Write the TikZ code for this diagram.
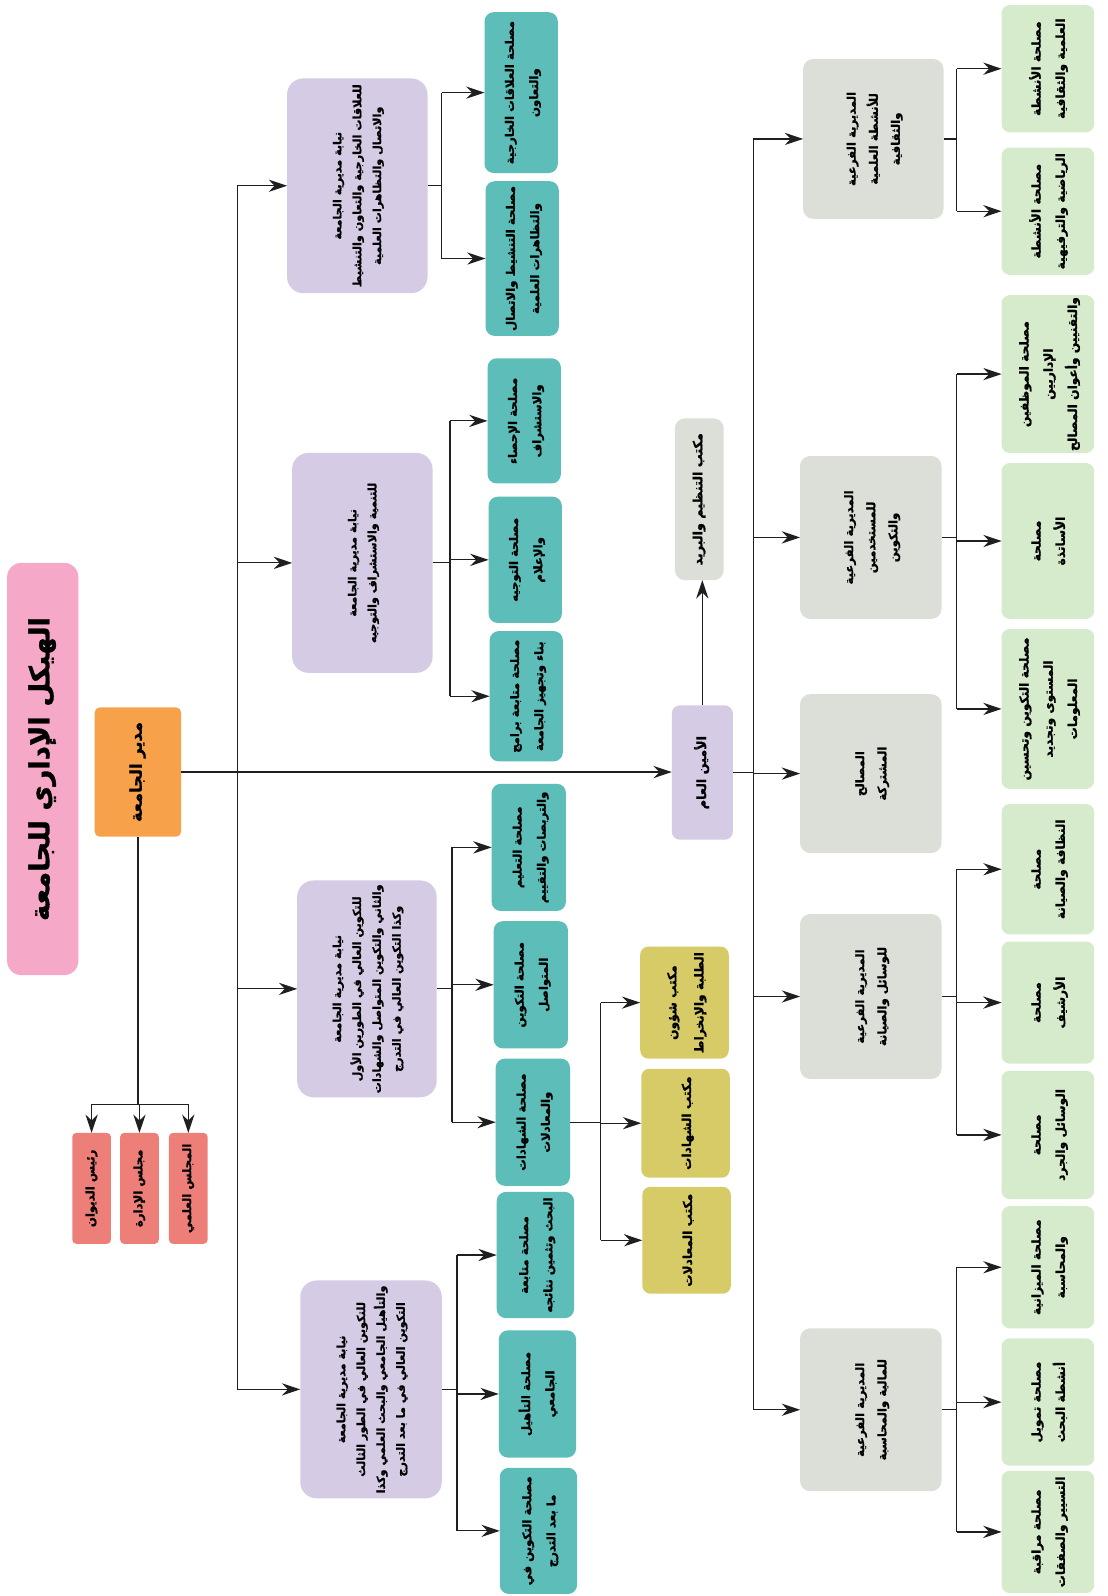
\documentclass[tikz,border=0pt]{standalone}
\usepackage{fontspec}
\usepackage{graphicx}
\usetikzlibrary{arrows.meta}
\newfontfamily\arfont[Script=Arabic, BoldFeatures={FakeBold=1.2}]{DejaVu Sans}
\TeXXeTstate=1
\newcommand\ar[1]{\beginR#1\endR}

\definecolor{titlepink}{HTML}{F6A8C8}
\definecolor{dirorange}{HTML}{F7A24A}
\definecolor{councilred}{HTML}{EE7E78}
\definecolor{vicepurple}{HTML}{D6CBE5}
\definecolor{svcteal}{HTML}{5DBDB9}
\definecolor{officeyellow}{HTML}{D6CB66}
\definecolor{subgray}{HTML}{DBDFD8}
\definecolor{svcgreen}{HTML}{D5EBCB}

% box from (x1,y1) to (x2,y2), text turned a quarter turn
\newcommand\orgbox[7]{%
  \node[#2, minimum width={(#5-#3)*1pt}, minimum height={(#6-#4)*1pt}]
    (#1) at ({(#3+#5)/2},{(#4+#6)/2})
    {\rotatebox{90}{\begin{tabular}{@{}c@{}}#7\end{tabular}}};}

% parent -> vertical bus at x=#2 -> children
\newcommand\fan[5]{%
  \draw[link] (#1.east) -- (#2,0 |- #1.east);
  \draw[link] (#2,0 |- #3) -- (#2,0 |- #4);
  \foreach \c in {#5} {\draw[arr] (#2,0 |- \c) -- (\c.west);}}

% font size, baseline skip and row stretch for box texts
\newcommand\boxfont[3]{\arfont\bfseries\fontsize{#1}{#2}\selectfont\def\arraystretch{#3}}

\begin{document}
\begin{tikzpicture}[x=1pt,y=-1pt,
  base/.style={inner sep=0pt, outer sep=0pt, text=black},
  titlebox/.style={base, fill=titlepink, rounded corners=14pt, font={\boxfont{27}{32}{1}}},
  dirbox/.style={base, fill=dirorange, rounded corners=5pt, font={\boxfont{16}{19}{1}}},
  redbox/.style={base, fill=councilred, rounded corners=4pt, font={\boxfont{11.5}{14}{1}}},
  vicebox/.style={base, fill=vicepurple, rounded corners=16pt, font={\boxfont{11}{13}{1.5}}},
  tealbox/.style={base, fill=svcteal, rounded corners=9pt, font={\boxfont{11.5}{14}{1.7}}},
  yellowbox/.style={base, fill=officeyellow, rounded corners=8pt, font={\boxfont{12}{14}{1.9}}},
  graybox/.style={base, fill=subgray, rounded corners=10pt, font={\boxfont{11.5}{14}{1.55}}},
  greenbox/.style={base, fill=svcgreen, rounded corners=8pt, font={\boxfont{12}{14}{1.7}}},
  sgbox/.style={base, fill=vicepurple, rounded corners=8pt, font={\boxfont{12.5}{15}{1}}},
  mailbox/.style={graybox, font={\boxfont{12.5}{15}{1}}},
  link/.style={line width=1.2pt, draw=black!88},
  arr/.style={link, -{Stealth[length=18pt,width=12pt]}}
]
\fill[white] (0,0) rectangle (1088,1568);
\useasboundingbox (0,0) rectangle (1088,1568);

% ---- top of the hierarchy
\orgbox{title}{titlebox}{7}{553}{77}{958}{\ar{الهيكل الإداري للجامعة}}
\orgbox{dir}{dirbox}{93}{695}{178}{822}{\ar{مدير الجامعة}}
\orgbox{r1}{redbox}{71}{1113}{109}{1222}{\ar{رئيس الديوان}}
\orgbox{r2}{redbox}{118}{1113}{156}{1222}{\ar{مجلس الإدارة}}
\orgbox{r3}{redbox}{166}{1113}{204}{1222}{\ar{المجلس العلمي}}

% ---- vice-rectorates
\orgbox{P1}{vicebox}{282}{77}{420}{288}{\ar{نيابة مديرية الجامعة}\\\ar{للعلاقات الخارجية والتعاون والتنشيط}\\\ar{والاتصال والتظاهرات العلمية}}
\orgbox{P2}{vicebox}{287}{445}{425}{661}{\ar{نيابة مديرية الجامعة}\\\ar{للتنمية والاستشراف والتوجيه}}
\orgbox{P3}{vicebox}{292}{865}{429}{1078}{\ar{نيابة مديرية الجامعة}\\\ar{للتكوين العالي في الطورين الأول}\\\ar{والثاني والتكوين المتواصل والشهادات}\\\ar{وكذا التكوين العالي في التدرج}}
\orgbox{P4}{vicebox}{295}{1258}{434}{1472}{\ar{نيابة مديرية الجامعة}\\\ar{للتكوين العالي في الطور الثالث}\\\ar{والتأهيل الجامعي والبحث العلمي وكذا}\\\ar{التكوين العالي في ما بعد التدرج}}

% ---- services of the vice-rectorates
\orgbox{T1a}{tealbox}{476}{12}{548}{170}{\ar{مصلحة العلاقات الخارجية}\\\ar{والتعاون}}
\orgbox{T1b}{tealbox}{477}{178}{549}{330}{\ar{مصلحة التنشيط والاتصال}\\\ar{والتظاهرات العلمية}}
\orgbox{T2a}{tealbox}{479}{352}{551}{475}{\ar{مصلحة الإحصاء}\\\ar{والاستشراف}}
\orgbox{T2b}{tealbox}{480}{488}{552}{612}{\ar{مصلحة التوجيه}\\\ar{والإعلام}}
\orgbox{T2c}{tealbox}{481}{620}{553}{748}{\ar{مصلحة متابعة برامج}\\\ar{بناء وتجهيز الجامعة}}
\orgbox{T3a}{tealbox}{483}{770}{556}{895}{\ar{مصلحة التعليم}\\\ar{والتربصات والتقييم}}
\orgbox{T3b}{tealbox}{485}{905}{558}{1030}{\ar{مصلحة التكوين}\\\ar{المتواصل}}
\orgbox{T3c}{tealbox}{487}{1040}{560}{1165}{\ar{مصلحة الشهادات}\\\ar{والمعادلات}}
\orgbox{T4a}{tealbox}{488}{1171}{564}{1295}{\ar{مصلحة متابعة}\\\ar{البحث وتثمين نتائجه}}
\orgbox{T4b}{tealbox}{490}{1307}{566}{1432}{\ar{مصلحة التأهيل}\\\ar{الجامعي}}
\orgbox{T4c}{tealbox}{491}{1442}{567}{1566}{\ar{مصلحة التكوين في}\\\ar{ما بعد التدرج}}

% ---- offices
\orgbox{Y3}{yellowbox}{629}{930}{716}{1040}{\ar{مكتب شؤون}\\\ar{الطلبة والإنخراط}}
\orgbox{Y2}{yellowbox}{630}{1050}{717}{1157}{\ar{مكتب الشهادات}}
\orgbox{Y1}{yellowbox}{631}{1166}{718}{1271}{\ar{مكتب المعادلات}}

% ---- secretary general
\orgbox{sg}{sgbox}{660}{693}{720}{825}{\ar{الأمين العام}}
\orgbox{mail}{mailbox}{663}{411}{711}{570}{\ar{مكتب التنظيم والبريد}}

% ---- sub-directorates
\orgbox{G1}{graybox}{789}{58}{927}{215}{\ar{المديرية الفرعية}\\\ar{للأنشطة العلمية}\\\ar{والثقافية}}
\orgbox{G2}{graybox}{786}{448}{925}{608}{\ar{المديرية الفرعية}\\\ar{للمستخدمين}\\\ar{والتكوين}}
\orgbox{G3}{graybox}{786}{682}{925}{838}{\ar{المصالح}\\\ar{المشتركة}}
\orgbox{G4}{graybox}{786}{898}{925}{1060}{\ar{المديرية الفرعية}\\\ar{للوسائل والصيانة}}
\orgbox{G5}{graybox}{786}{1305}{925}{1465}{\ar{المديرية الفرعية}\\\ar{للمالية والمحاسبة}}

% ---- services of the sub-directorates
\orgbox{L1a}{greenbox}{984}{5}{1075}{130}{\ar{مصلحة الأنشطة}\\\ar{العلمية والثقافية}}
\orgbox{L1b}{greenbox}{984}{145}{1075}{270}{\ar{مصلحة الأنشطة}\\\ar{الرياضية والترفيهية}}
\orgbox{L2a}{greenbox}{984}{290}{1075}{445}{\ar{مصلحة الموظفين}\\\ar{الإداريين}\\\ar{والتقنيين وأعوان المصالح}}
\orgbox{L2b}{greenbox}{984}{455}{1075}{608}{\ar{مصلحة}\\\ar{الأساتذة}}
\orgbox{L2c}{greenbox}{984}{618}{1075}{775}{\ar{مصلحة التكوين وتحسين}\\\ar{المستوى وتجديد}\\\ar{المعلومات}}
\orgbox{L4a}{greenbox}{984}{790}{1075}{918}{\ar{مصلحة}\\\ar{النظافة والصيانة}}
\orgbox{L4b}{greenbox}{984}{925}{1075}{1045}{\ar{مصلحة}\\\ar{الأرشيف}}
\orgbox{L4c}{greenbox}{984}{1052}{1075}{1178}{\ar{مصلحة}\\\ar{الوسائل والجرد}}
\orgbox{L5a}{greenbox}{984}{1185}{1075}{1305}{\ar{مصلحة الميزانية}\\\ar{والمحاسبة}}
\orgbox{L5b}{greenbox}{984}{1315}{1075}{1440}{\ar{مصلحة تمويل}\\\ar{أنشطة البحث}}
\orgbox{L5c}{greenbox}{984}{1445}{1075}{1565}{\ar{مصلحة مراقبة}\\\ar{التسيير والصفقات}}

% ---- connectors: director
\coordinate (cj) at (dir.south |- 0,1085);
\draw[link] (dir.south) -- (cj);
\draw[link] (r1.north |- cj) -- (r3.north |- cj);
\foreach \n in {r1,r2,r3} {\draw[arr] (\n.north |- cj) -- (\n.north);}
\draw[arr] (dir.east) -- (dir.east -| sg.west);
\draw[link] (233,0 |- P1) -- (233,0 |- P4);
\foreach \n in {P1,P2,P3,P4} {\draw[arr] (233,0 |- \n) -- (\n.west);}

% ---- connectors: vice-rectorates and offices
\fan{P1}{434}{T1a}{T1b}{T1a,T1b}
\fan{P2}{442}{T2a}{T2c}{T2a,T2b,T2c}
\fan{P3}{444}{T3a}{T3c}{T3a,T3b,T3c}
\fan{P4}{449}{T4a}{T4c}{T4a,T4b,T4c}
\fan{T3c}{590}{Y3}{Y1}{Y1,Y2,Y3}

% ---- connectors: secretary general
\draw[arr] (sg.north) -- (sg.north |- mail.south);
\draw[link] (sg.east) -- (740,0 |- sg.east);
\draw[link] (740,0 |- G1) -- (740,0 |- G5);
\foreach \n in {G1,G2,G3,G4,G5} {\draw[arr] (740,0 |- \n) -- (\n.west);}
\fan{G1}{940}{L1a}{L1b}{L1a,L1b}
\fan{G2}{940}{L2a}{L2c}{L2a,L2b,L2c}
\fan{G4}{940}{L4a}{L4c}{L4a,L4b,L4c}
\fan{G5}{940}{L5a}{L5c}{L5a,L5b,L5c}
\end{tikzpicture}
\end{document}
